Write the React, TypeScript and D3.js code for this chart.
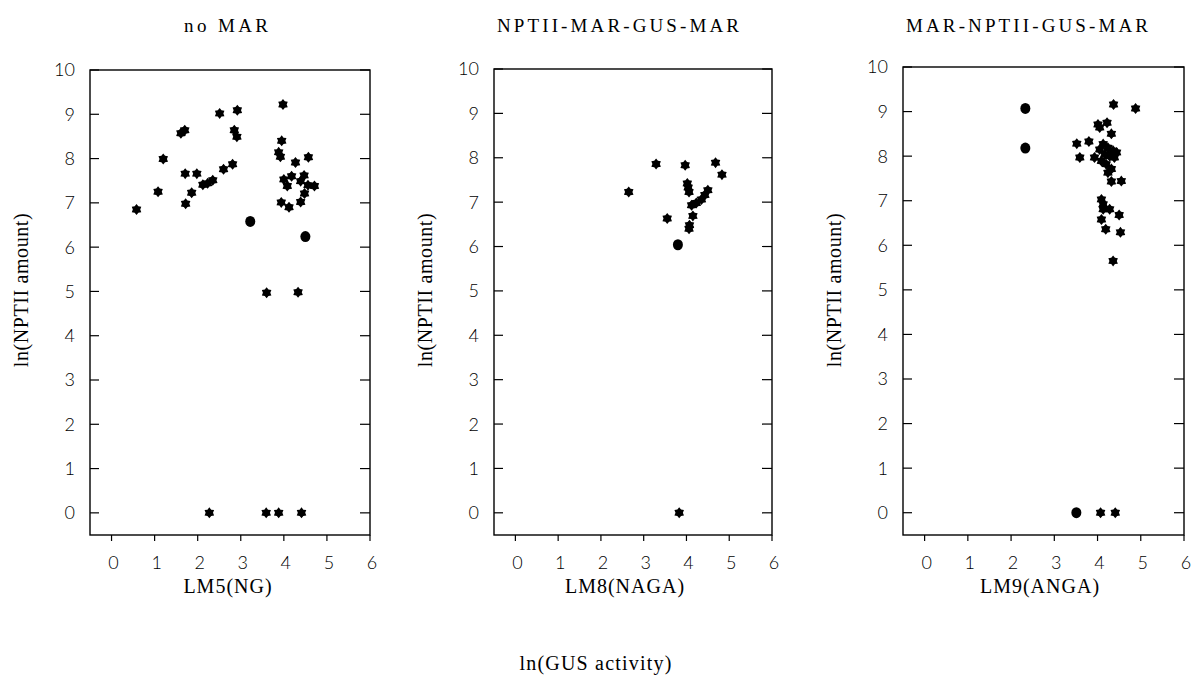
import React from "react";
import * as d3 from "d3";

// ---- data (x = ln(GUS activity), y = ln(NPTII amount)) ----
const noMarStars: [number, number][] = [
  [0.58, 6.85], [1.08, 7.25], [1.2, 7.99], [1.61, 8.57], [1.7, 8.64], [1.71, 7.66],
  [1.72, 6.98], [1.86, 7.23], [1.98, 7.66], [2.12, 7.41], [2.23, 7.44], [2.35, 7.51],
  [2.6, 7.76], [2.81, 7.87], [2.51, 9.02], [2.92, 9.09], [2.85, 8.64], [2.91, 8.49],
  [3.98, 9.22], [3.95, 8.4], [3.88, 8.14], [3.92, 8.04], [4.27, 7.91], [4.57, 8.03],
  [4.0, 7.53], [4.18, 7.6], [4.08, 7.38], [4.47, 7.62], [4.39, 7.49], [4.56, 7.4],
  [4.71, 7.38], [4.48, 7.21], [4.39, 7.02], [3.94, 7.01], [4.12, 6.9],
  [3.6, 4.97], [4.33, 4.98], [2.27, 0], [3.59, 0], [3.88, 0], [4.41, 0],
];
const noMarDots: [number, number][] = [[3.22, 6.58], [4.5, 6.24]];

const nagaStars: [number, number][] = [
  [2.65, 7.23], [3.29, 7.86], [3.97, 7.83], [4.68, 7.89], [4.83, 7.62],
  [4.02, 7.42], [4.04, 7.33], [4.06, 7.23], [4.5, 7.27], [4.43, 7.16], [4.35, 7.06],
  [4.23, 6.98], [4.12, 6.93], [4.15, 6.69], [4.07, 6.48], [4.06, 6.4], [3.55, 6.63],
  [3.83, 0],
];
const nagaDots: [number, number][] = [[3.8, 6.04]];

const angaStars: [number, number][] = [
  [4.37, 9.16], [4.88, 9.07], [4.01, 8.71], [4.05, 8.64], [4.22, 8.75], [4.32, 8.5],
  [3.52, 8.28], [3.8, 8.33], [3.59, 7.97], [3.93, 7.97], [4.05, 8.15], [4.13, 8.27],
  [4.24, 8.19], [4.36, 8.12], [4.44, 8.08], [4.17, 8.04], [4.28, 8.0], [4.39, 7.97],
  [4.09, 7.89], [4.2, 7.82], [4.32, 7.71], [4.24, 7.63], [4.32, 7.43], [4.55, 7.44],
  [4.09, 7.03], [4.13, 6.92], [4.13, 6.81], [4.28, 6.81], [4.5, 6.68], [4.09, 6.58],
  [4.19, 6.36], [4.53, 6.29], [4.36, 5.65], [4.07, 0], [4.41, 0],
];
const angaDots: [number, number][] = [[2.33, 9.07], [2.33, 8.18], [3.51, 0]];

const panelTitles = ["no MAR", "NPTII-MAR-GUS-MAR", "MAR-NPTII-GUS-MAR"];
const xLabels = ["LM5(NG)", "LM8(NAGA)", "LM9(ANGA)"];
const yLabel = "ln(NPTII amount)";
const commonXLabel = "ln(GUS activity)";
const xTicks = [0, 1, 2, 3, 4, 5, 6];
const yTicks = [0, 1, 2, 3, 4, 5, 6, 7, 8, 9, 10];

const panels = [
  { stars: noMarStars, dots: noMarDots, left: 90, right: 370, top: 70, titleX: 226, titleW: 84, xLabX: 228 },
  { stars: nagaStars, dots: nagaDots, left: 494, right: 772, top: 69, titleX: 618, titleW: 242, xLabX: 625 },
  { stars: angaStars, dots: angaDots, left: 903, right: 1184, top: 67, titleX: 1027, titleW: 242, xLabX: 1040 },
];

function starPath(r1: number, r2: number): string {
  const pts: [number, number][] = [];
  for (let i = 0; i < 12; i++) {
    const a = (Math.PI / 6) * i - Math.PI / 2;
    const r = i % 2 === 0 ? r1 : r2;
    pts.push([r * Math.cos(a), r * Math.sin(a)]);
  }
  return d3.line().curve(d3.curveLinearClosed)(pts) || "";
}
const STAR = starPath(5.5, 3.7);

const tickFont = "Lato, 'Open Sans', sans-serif";
const serif = "'Liberation Serif', 'DejaVu Serif', serif";

function Panel({ p, i }: { p: (typeof panels)[number]; i: number }) {
  const bottom = 535;
  const x = d3.scaleLinear().domain([-0.5, 6]).range([p.left, p.right]);
  const y = d3.scaleLinear().domain([-0.5, 10]).range([bottom, p.top]);
  return (
    <g>
      <text x={p.titleX} y={32} textAnchor="middle" fontFamily={serif} fontSize={19}
        textLength={p.titleW} lengthAdjust="spacing">{panelTitles[i]}</text>
      <rect x={p.left} y={p.top} width={p.right - p.left} height={bottom - p.top}
        fill="none" stroke="#000" strokeWidth={1.4} />
      {yTicks.map((t) => (
        <g key={"y" + t}>
          <line x1={p.left} x2={p.left + 9} y1={y(t)} y2={y(t)} stroke="#000" strokeWidth={1.2} />
          <line x1={p.right - 10} x2={p.right} y1={y(t)} y2={y(t)} stroke="#000" strokeWidth={1.2} />
          <text x={p.left - 15} y={y(t)} dy="0.36em" textAnchor="end" fontFamily={tickFont}
            fontWeight={300} fontSize={18} fill="#000">{t}</text>
        </g>
      ))}
      {xTicks.map((t) => (
        <g key={"x" + t}>
          <line x1={x(t)} x2={x(t)} y1={bottom} y2={bottom + 6} stroke="#000" strokeWidth={1.2} />
          <text x={x(t) + 2} y={569} textAnchor="middle" fontFamily={tickFont}
            fontWeight={300} fontSize={18} fill="#000">{t}</text>
        </g>
      ))}
      <text x={p.xLabX} y={593} textAnchor="middle" fontFamily={serif} fontSize={20}
        letterSpacing={1}>{xLabels[i]}</text>
      <text transform={`translate(${p.left - 69},290) rotate(-90)`} textAnchor="middle"
        dy="0.35em" fontFamily={serif} fontSize={20} letterSpacing={0.6}>{yLabel}</text>
      {p.stars.map((d, k) => (
        <path key={"s" + k} d={STAR} transform={`translate(${x(d[0])},${y(d[1])})`} fill="#000" />
      ))}
      {p.dots.map((d, k) => (
        <ellipse key={"c" + k} cx={x(d[0])} cy={y(d[1])} rx={5} ry={5.5} fill="#000" />
      ))}
    </g>
  );
}

export default function App() {
  return (
    <svg width={1192} height={677} style={{ display: "block", position: "absolute", left: 0, top: 0 }}>
      <rect width={1192} height={677} fill="#fff" />
      {panels.map((p, i) => (
        <Panel key={i} p={p} i={i} />
      ))}
      <text x={596} y={670} textAnchor="middle" fontFamily={serif} fontSize={20}
        letterSpacing={1.2}>{commonXLabel}</text>
    </svg>
  );
}
